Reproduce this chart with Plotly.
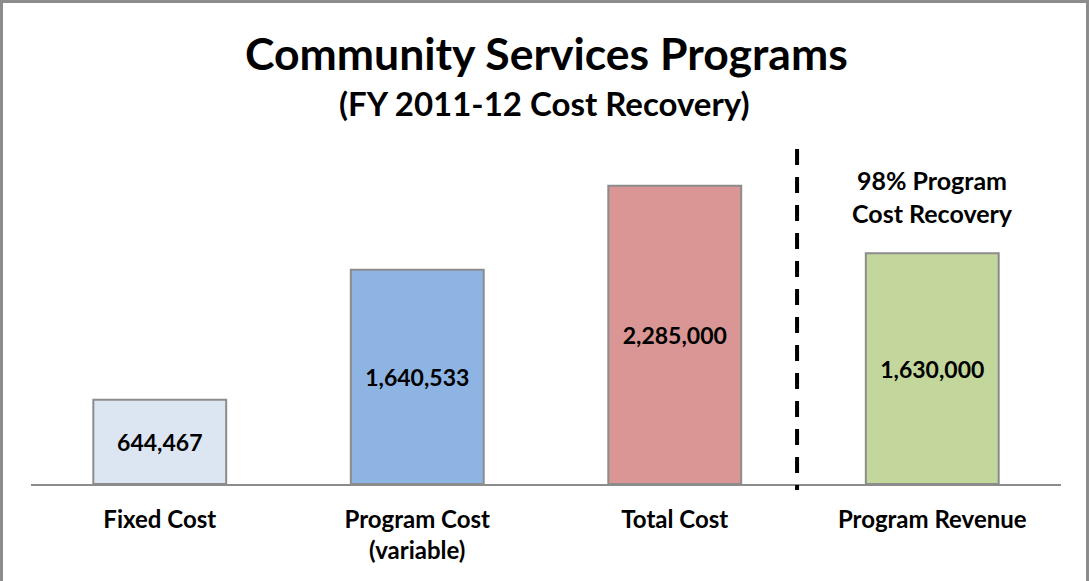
import plotly.graph_objects as go

categories = ["Fixed Cost", "Program Cost<br>(variable)", "Total Cost", "Program Revenue"]
cost_values = [644467, 1640533, 2285000]
revenue_values = [1630000]
bar_colors = ["#DCE6F2", "#8EB4E3", "#D99694"]
revenue_color = "#C3D69B"
title_text = "Community Services Programs"
subtitle_text = "(FY 2011-12 Cost Recovery)"
recovery_note = "98% Program<br>Cost Recovery"

FONT = "Lato"
W, H = 1089, 581
ml, mr, mt, mb = 31, 28, 140, 97
pw = W - ml - mr
ph = H - mt - mb

def px_x(x):
    return (x - ml) / pw

def px_y(y):
    return (H - mb - y) / ph

fig = go.Figure()
fig.add_trace(go.Bar(
    x=categories[:3], y=cost_values,
    marker=dict(color=bar_colors, line=dict(color="#8C8C8C", width=2)),
    text=[f"{v:,}" for v in cost_values],
    textposition="inside", insidetextanchor="middle",
    textfont=dict(family=FONT, size=23, color="black", weight="bold"),
    width=0.516, yaxis="y", hoverinfo="skip",
))
fig.add_trace(go.Bar(
    x=categories[3:], y=revenue_values,
    marker=dict(color=revenue_color, line=dict(color="#8C8C8C", width=2)),
    text=[f"{v:,}" for v in revenue_values],
    textposition="inside", insidetextanchor="middle",
    textfont=dict(family=FONT, size=23, color="black", weight="bold"),
    width=0.516, yaxis="y2", hoverinfo="skip",
))

fig.update_layout(
    width=W, height=H,
    margin=dict(l=ml, r=mr, t=mt, b=mb),
    paper_bgcolor="white", plot_bgcolor="white",
    showlegend=False,
    barmode="overlay",
    font=dict(family=FONT, color="black"),
    xaxis=dict(
        categoryorder="array", categoryarray=categories,
        range=[-0.5, 3.5],
        showline=True, linecolor="#8C8C8C", linewidth=2,
        showgrid=False, zeroline=False, ticks="",
        ticklabelstandoff=13,
        tickfont=dict(family=FONT, size=24, color="black", weight="bold"),
    ),
    yaxis=dict(range=[0, 2635000], visible=False, showgrid=False, zeroline=False),
    yaxis2=dict(range=[0, 2430500], visible=False, showgrid=False, zeroline=False,
                overlaying="y"),
    shapes=[
        dict(type="line", xref="x", yref="paper", x0=2.475, x1=2.475,
             y0=px_y(149), y1=px_y(490),
             line=dict(color="black", width=4, dash="16px,12px")),
        dict(type="rect", xref="paper", yref="paper",
             x0=px_x(1.5), x1=px_x(1087.5), y0=px_y(590), y1=px_y(1.5),
             line=dict(color="#8C8C8C", width=3)),
    ],
    annotations=[
        dict(text=f"<b>{title_text}</b>", xref="paper", yref="paper",
             x=px_x(546), y=px_y(52), showarrow=False,
             xanchor="center", yanchor="middle",
             font=dict(family=FONT, size=44.5, color="black")),
        dict(text=f"<b>{subtitle_text}</b>", xref="paper", yref="paper",
             x=px_x(544), y=px_y(103), showarrow=False,
             xanchor="center", yanchor="middle",
             font=dict(family=FONT, size=33, color="black")),
        dict(text=f"<b>{recovery_note}</b>", xref="x", yref="paper",
             x=3, y=px_y(196), showarrow=False,
             xanchor="center", yanchor="middle",
             font=dict(family=FONT, size=25, color="black")),
    ],
)

fig.write_html("out.html")
